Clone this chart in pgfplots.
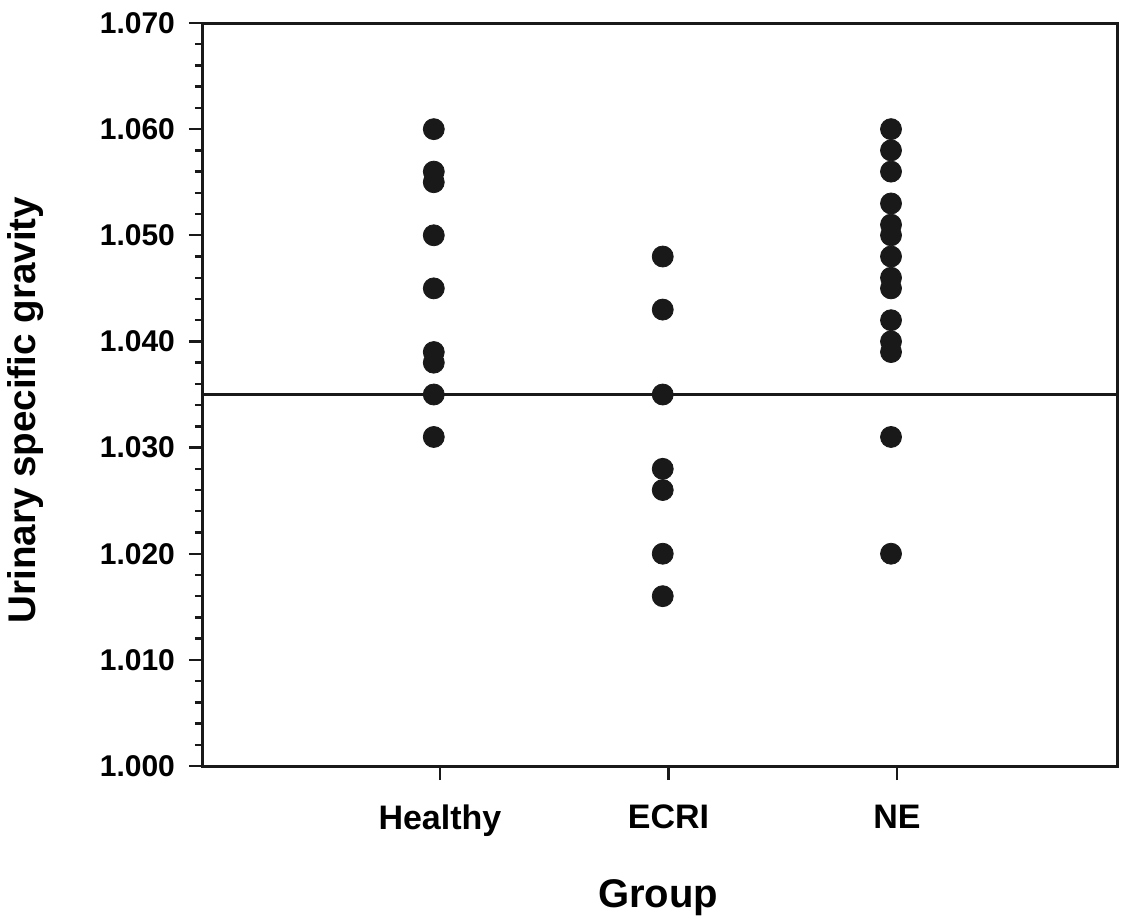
\documentclass[border=0pt]{standalone}
\usepackage{fontspec}
\setmainfont{Liberation Sans}
\usepackage{pgfplots}
\pgfplotsset{compat=1.18}

\begin{document}
\begin{tikzpicture}
\begin{axis}[
    scale only axis, width=457pt, height=371.5pt,
    xmin=-0.037, xmax=3.963, ymin=1.000, ymax=1.070,
    axis line style={line width=1.5pt, black!90},
    xtick={1,2,3}, xticklabels={Healthy,ECRI,NE},
    ytick={1.00,1.01,1.02,1.03,1.04,1.05,1.06,1.07},
    minor y tick num=4,
    scaled y ticks=false,
    tick align=outside, xtick pos=bottom, ytick pos=left,
    major tick length=7pt, minor tick length=4pt,
    every tick/.style={line width=1.2pt, black!90},
    xticklabel style={font=\fontsize{17}{20}\selectfont\bfseries, yshift=-9pt},
    yticklabel style={font=\fontsize{15}{18}\selectfont\bfseries, xshift=-3.5pt,
                      /pgf/number format/.cd, fixed, fixed zerofill, precision=3,
                      assume math mode=true},
    xlabel={Group}, ylabel={Urinary specific gravity},
    xlabel style={font=\fontsize{20}{24}\selectfont\bfseries,
                  at={(axis description cs:0.498,-0.177)}, anchor=center},
    ylabel style={font=\fontsize{19.3}{23}\selectfont\bfseries,
                  at={(axis description cs:-0.194,0.479)}, anchor=center},
  ]
  % reference line
  \addplot[line width=1.6pt, black!90] coordinates {(-0.037,1.035) (3.963,1.035)};

  % Healthy
  \addplot[only marks, mark=*, mark size=5.25pt, black!90] coordinates {
    (0.973,1.060) (0.973,1.056) (0.973,1.055) (0.973,1.050) (0.973,1.045)
    (0.973,1.039) (0.973,1.038) (0.973,1.035) (0.973,1.031)};
  % ECRI
  \addplot[only marks, mark=*, mark size=5.25pt, black!90] coordinates {
    (1.975,1.048) (1.975,1.043) (1.975,1.035) (1.975,1.028) (1.975,1.026)
    (1.975,1.020) (1.975,1.016)};
  % NE
  \addplot[only marks, mark=*, mark size=5.25pt, black!90] coordinates {
    (2.974,1.060) (2.974,1.058) (2.974,1.056) (2.974,1.053) (2.974,1.051)
    (2.974,1.050) (2.974,1.048) (2.974,1.046) (2.974,1.045) (2.974,1.042)
    (2.974,1.040) (2.974,1.039) (2.974,1.031) (2.974,1.020)};
\end{axis}
\pgfresetboundingbox
\path[use as bounding box] (-101.5pt,-77pt) rectangle (459.5pt,383pt);
\end{tikzpicture}
\end{document}
